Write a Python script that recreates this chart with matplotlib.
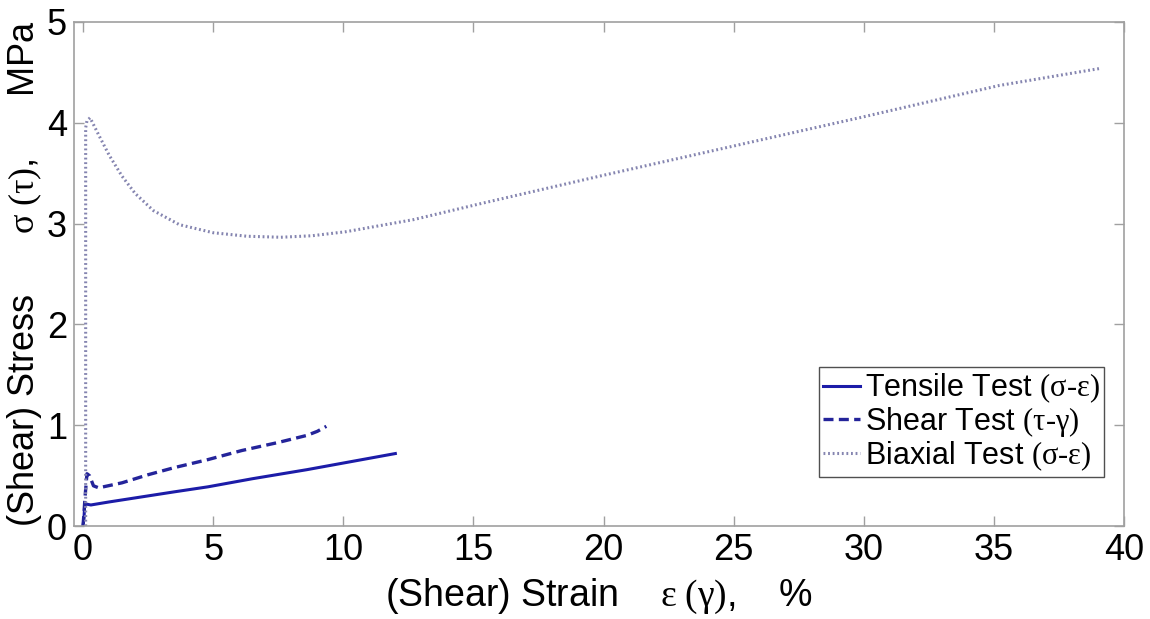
"""
Stress-strain response of the membrane material under tensile,
shear and biaxial loading.
"""

import matplotlib
matplotlib.use('Agg')
import matplotlib.pyplot as plt

plt.rcParams['font.family'] = ['Liberation Sans', 'DejaVu Sans']
plt.rcParams['mathtext.fontset'] = 'custom'
plt.rcParams['mathtext.rm'] = 'Liberation Serif'
plt.rcParams['mathtext.it'] = 'Liberation Serif:italic'

# Tensile test (sigma-epsilon)
tensile_strain = [0.0, 0.04, 0.06, 0.1, 0.3, 1.0, 2.0, 3.5, 4.8, 6.5, 8.6, 10.3, 12.0]
tensile_stress = [0.0, 0.10, 0.20, 0.22, 0.21, 0.24, 0.28, 0.34, 0.39, 0.47, 0.56, 0.64, 0.72]

# Shear test (tau-gamma)
shear_strain = [0.0, 0.08, 0.15, 0.25, 0.4, 0.6, 1.5, 2.5, 3.5, 4.8, 6.1, 7.5, 8.6, 9.0, 9.35]
shear_stress = [0.0, 0.30, 0.52, 0.50, 0.40, 0.38, 0.43, 0.51, 0.58, 0.66, 0.75, 0.83, 0.90, 0.94, 0.99]

# Biaxial test (sigma-epsilon)
biaxial_strain = [0.1, 0.1, 0.15, 0.27, 0.6, 1.0, 1.5, 2.0, 2.7, 3.7, 5.0, 6.3, 7.6, 8.8,
                  10.1, 12.7, 15.3, 20.0, 25.0, 30.0, 35.2, 39.1]
biaxial_stress = [0.0, 3.95, 4.02, 4.05, 3.88, 3.68, 3.47, 3.30, 3.13, 2.99, 2.91, 2.875, 2.865, 2.88,
                  2.92, 3.04, 3.20, 3.48, 3.77, 4.06, 4.37, 4.54]

fig = plt.figure(figsize=(11.5, 6.19), dpi=100)
ax = fig.add_axes([0.0643, 0.150, 0.9131, 0.8145])

ax.plot(tensile_strain, tensile_stress, color='#1c1ca8', linewidth=2.2,
        label=r'Tensile Test $\mathrm{(σ\text{-}ε)}$')
ax.plot(shear_strain, shear_stress, color='#24249a', linewidth=2.4,
        linestyle=(0, (3, 1.6)), label=r'Shear Test $\mathrm{(τ\text{-}γ)}$')
ax.plot(biaxial_strain, biaxial_stress, color='#8585b0', linewidth=2.2,
        linestyle=(0, (0.6, 0.9)), label=r'Biaxial Test $\mathrm{(σ\text{-}ε)}$')

ax.set_xlim(-0.35, 40)
ax.set_ylim(0, 5)
ax.set_xticks(range(0, 41, 5))
ax.set_yticks(range(0, 6))

for spine in ax.spines.values():
    spine.set_color('#a0a0a0')
    spine.set_linewidth(1.2)
ax.tick_params(direction='in', length=7, width=1, color='#a0a0a0',
               top=True, right=True, labelsize=26, labelcolor='black', pad=5)

ax.set_xlabel(r'(Shear) Strain    $\mathrm{ε\ (γ)}$,    %', fontsize=27, labelpad=6)
ax.set_ylabel(r'(Shear) Stress      $\mathrm{σ\ (τ)}$,      MPa', fontsize=26, labelpad=2)

leg = ax.legend(loc='lower right', bbox_to_anchor=(0.981, 0.097), borderaxespad=0,
                fontsize=22, handlelength=1.2, handletextpad=0.15, borderpad=0.15,
                labelspacing=0.0, fancybox=False, framealpha=1)
leg.get_frame().set_edgecolor('#505050')
leg.get_frame().set_linewidth(1.0)

plt.savefig('out.png', dpi=100)
plt.close()
